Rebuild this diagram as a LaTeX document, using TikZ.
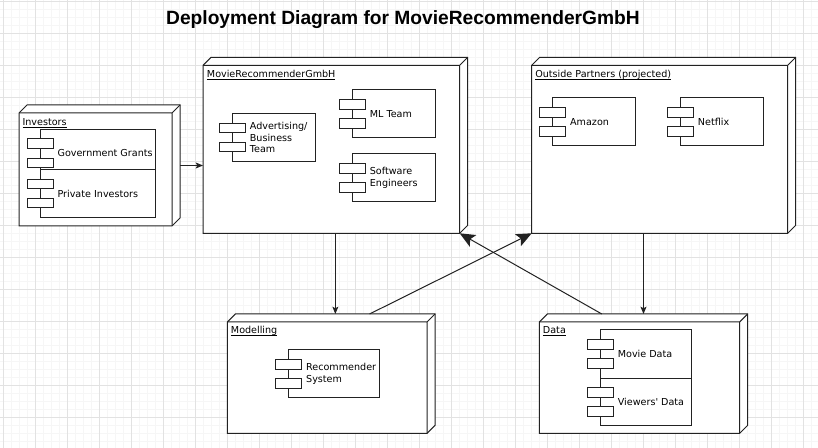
\documentclass[tikz,border=0pt]{standalone}
\usepackage{fontspec}
\setmainfont{DejaVu Sans}
\newfontfamily\titlefont{Liberation Sans}
\usepackage{tikz}
\usetikzlibrary{arrows.meta}
\usetikzlibrary{calc}
\usetikzlibrary{fit}
\definecolor{gridmajor}{RGB}{226,226,226}
\definecolor{gridminor}{RGB}{246,246,246}
\definecolor{lineclr}{RGB}{34,34,34}

\begin{document}
\begin{tikzpicture}[x=0.75pt,y=0.75pt,yscale=-1,xscale=1,
  gridline/.style={line width=0.75pt},
  deploy/.style={inner sep=0pt, outer sep=0pt},
  nodeface/.style={draw=lineclr, line width=0.75pt, fill=white, line join=miter},
  component/.style={draw=lineclr, line width=0.75pt, fill=white, inner sep=0pt, outer sep=0pt},
  jetty/.style={draw=lineclr, line width=0.75pt, fill=white},
  comptext/.style={anchor=west, inner sep=0pt, align=left, font=\fontsize{7.2}{8.7}\selectfont},
  nodetitle/.style={anchor=base west, inner sep=0pt, font=\fontsize{7.2}{8.7}\selectfont},
  flow/.style={draw=lineclr, line width=0.75pt, -{Stealth[length=5.5pt,width=4.5pt,inset=1.2pt]}},
  bigflow/.style={draw=lineclr, line width=0.75pt, -{Stealth[length=11.5pt,width=10pt,inset=2.5pt]}}
]
\useasboundingbox (0,0) rectangle (818,448);

%Grid
\foreach \gx in {3,11,...,818} \draw[gridline, gridminor] (\gx,0) -- (\gx,448);
\foreach \gy in {1.3,9.3,...,448} \draw[gridline, gridminor] (0,\gy) -- (818,\gy);
\foreach \gx in {3,35,...,818} \draw[gridline, gridmajor] (\gx,0) -- (\gx,448);
\foreach \gy in {1.3,33.3,...,448} \draw[gridline, gridmajor] (0,\gy) -- (818,\gy);

% Text Node
\node[anchor=base, inner sep=0pt, font=\titlefont\bfseries\fontsize{14.4}{17}\selectfont] (title) at (403,24.3) {Deployment Diagram for MovieRecommenderGmbH};

%Shape: Node
\node[deploy, fit={(19,105) (180,226)}] (investors) {};
\node[deploy, fit={(203,57.3) (467.7,233.3)}] (mrgmbh) {};
\node[deploy, fit={(531.7,57.3) (795.7,233.3)}] (partners) {};
\node[deploy, fit={(227.3,314) (435,433.3)}] (modelling) {};
\node[deploy, fit={(539.3,314) (747.7,433.3)}] (data) {};

\foreach \n in {investors,mrgmbh,partners,modelling,data}{
  \draw[nodeface] (\n.south west) -- ($(\n.north west)+(0,8)$) -- ($(\n.north west)+(8,0)$) -- (\n.north east) -- ($(\n.south east)+(0,-8)$) -- ($(\n.south east)+(-8,0)$) -- cycle;
  \draw[nodeface, fill=none] ($(\n.north west)+(0,8)$) -- ($(\n.north east)+(-8,8)$) -- ($(\n.south east)+(-8,0)$) ($(\n.north east)+(-8,8)$) -- (\n.north east);
}

% Text Node
\node[nodetitle] (investorslabel) at ($(investors.north west)+(3.3,20.7)$) {\underline{\smash{Investors}}};
\node[nodetitle] (mrgmbhlabel) at ($(mrgmbh.north west)+(3.7,20)$) {\underline{\smash{MovieRecommenderGmbH}}};
\node[nodetitle] (partnerslabel) at ($(partners.north west)+(3.3,20)$) {\underline{\smash{Outside Partners (projected)}}};
\node[nodetitle] (modellinglabel) at ($(modelling.north west)+(3.4,19.3)$) {\underline{\smash{Modelling}}};
\node[nodetitle] (datalabel) at ($(data.north west)+(3.4,19.3)$) {\underline{\smash{Data}}};

%Shape: Component
\node[component, fit={(40,129.3) (155.3,177.3)}] (gov) {};
\node[component, fit={(40,169.3) (155.3,217.7)}] (priv) {};
\node[component, fit={(232.3,113.3) (315.7,161.7)}] (adv) {};
\node[component, fit={(352.3,90) (435,137.7)}] (ml) {};
\node[component, fit={(352.3,153.7) (435,202)}] (sw) {};
\node[component, fit={(552.3,97.7) (635.7,146)}] (amazon) {};
\node[component, fit={(680.3,97.7) (763.3,146)}] (netflix) {};
\node[component, fit={(288.3,350) (379.3,397.7)}] (recsys) {};
\node[component, fit={(600,330) (691.7,378.3)}] (movie) {};
\node[component, fit={(600,378.3) (691.7,426)}] (viewers) {};

\foreach \c in {gov,priv,adv,ml,sw,amazon,netflix,recsys,movie,viewers}{
  \draw[jetty] ($(\c.west)+(-13,-14.4)$) rectangle ($(\c.west)+(13,-4.8)$);
  \draw[jetty] ($(\c.west)+(-13,4.8)$) rectangle ($(\c.west)+(13,14.4)$);
}

% Text Node
\node[comptext] (govtext) at ($(gov.west)+(17.3,0)$) {Government Grants};
% Text Node
\node[comptext] (privtext) at ($(priv.west)+(17.3,0)$) {Private Investors};
% Text Node
\node[comptext] (advtext) at ($(adv.west)+(17.3,0)$) {Advertising/\\Business\\Team};
% Text Node
\node[comptext] (mltext) at ($(ml.west)+(17.3,0)$) {ML Team};
% Text Node
\node[comptext] (swtext) at ($(sw.west)+(17.3,0)$) {Software\\Engineers};
% Text Node
\node[comptext] (amazontext) at ($(amazon.west)+(17.6,0)$) {Amazon};
% Text Node
\node[comptext] (netflixtext) at ($(netflix.west)+(17.4,0)$) {Netflix};
% Text Node
\node[comptext] (recsystext) at ($(recsys.west)+(17.6,0)$) {Recommender\\System};
% Text Node
\node[comptext] (movietext) at ($(movie.west)+(17.6,0)$) {Movie Data};
% Text Node
\node[comptext] (viewerstext) at ($(viewers.west)+(17.6,0)$) {Viewers\textquotesingle\ Data};

%Connectors
\coordinate (modout) at ($(modelling.north west)!0.685!(modelling.north east)$);
\coordinate (dataout) at ($(data.north west)!0.3!(data.north east)$);
\coordinate (mrcorner) at ($(mrgmbh.south east)+(-8,0)$);

\draw[flow] (investors.east) -- (investors.east -| mrgmbh.west);
\draw[flow] (mrgmbh.south) -- (mrgmbh.south |- modelling.north);
\draw[flow] (data.north |- partners.south) -- (data.north);
\draw[bigflow] (modout) -- (partners.south west);
\draw[bigflow] (dataout) -- (mrcorner);

\end{tikzpicture}
\end{document}
